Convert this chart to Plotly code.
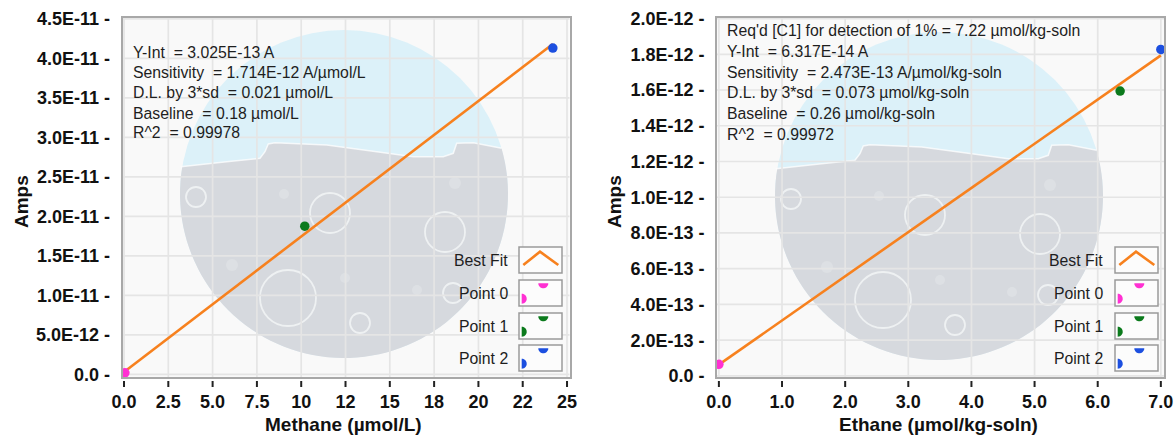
import numpy as np
import plotly.graph_objects as go

W, H = 1176, 438
FONT = "Arial, 'Liberation Sans', sans-serif"

# ---------------- data ----------------
methane_x = [0.05, 10.2, 24.2]
methane_y = [2.0e-13, 1.876e-11, 4.13e-11]
methane_fit_x = [0.0, 24.2]
methane_fit_y = [3.0e-13, 4.18e-11]

ethane_x = [0.0, 6.355, 7.0]
ethane_y = [6.5e-14, 1.594e-12, 1.827e-12]
ethane_fit_x = [0.0, 7.0]
ethane_fit_y = [6.3e-14, 1.794e-12]

point_names = ["Point 0", "Point 1", "Point 2"]
point_colors = ["#ff30d2", "#0b7a1c", "#1c4fe0"]
fit_color = "#f7811e"

m_xticks = [0, 2.5, 5, 7.5, 10, 12.5, 15, 17.5, 20, 22.5, 25]
m_xtext = ["0.0", "2.5", "5.0", "7.5", "10", "12", "15", "18", "20", "22", "25"]
m_yticks = [0, 5e-12, 1e-11, 1.5e-11, 2e-11, 2.5e-11, 3e-11, 3.5e-11, 4e-11, 4.5e-11]
m_ytext = ["0.0", "5.0E-12", "1.0E-11", "1.5E-11", "2.0E-11", "2.5E-11",
           "3.0E-11", "3.5E-11", "4.0E-11", "4.5E-11"]

e_xticks = [0, 1, 2, 3, 4, 5, 6, 7]
e_xtext = ["0.0", "1.0", "2.0", "3.0", "4.0", "5.0", "6.0", "7.0"]
e_yticks = [0, 2e-13, 4e-13, 6e-13, 8e-13, 1e-12, 1.2e-12, 1.4e-12, 1.6e-12, 1.8e-12, 2e-12]
e_ytext = ["0.0", "2.0E-13", "4.0E-13", "6.0E-13", "8.0E-13", "1.0E-12",
           "1.2E-12", "1.4E-12", "1.6E-12", "1.8E-12", "2.0E-12"]

m_stats = ["Y-Int  = 3.025E-13 A",
           "Sensitivity  = 1.714E-12 A/µmol/L",
           "D.L. by 3*sd  = 0.021 µmol/L",
           "Baseline  = 0.18 µmol/L",
           "R^2  = 0.99978"]
e_stats = ["Req'd [C1] for detection of 1% = 7.22 µmol/kg-soln",
           "Y-Int  = 6.317E-14 A",
           "Sensitivity  = 2.473E-13 A/µmol/kg-soln",
           "D.L. by 3*sd  = 0.073 µmol/kg-soln",
           "Baseline  = 0.26 µmol/kg-soln",
           "R^2  = 0.99972"]

m_xtitle = "Methane (µmol/L)"
e_xtitle = "Ethane (µmol/kg-soln)"
ytitle = "Amps"
legend_labels = ["Best Fit"] + point_names

# plot-area pixel boxes (left, right, top, bottom)
LEFT_BOX = (122.5, 569.5, 18, 377)
RIGHT_BOX = (717, 1164, 18, 377)


# ---------------- helpers ----------------
def px(x):
    return x / W


def py(y):
    return 1 - y / H


def path_of(pts, close=True, fx=px, fy=py):
    s = "M " + " L ".join(f"{fx(x):.5f},{fy(y):.5f}" for x, y in pts)
    return s + (" Z" if close else "")


def dom_conv(box):
    l, r, t, b = box
    return (lambda x: (x - l) / (r - l)), (lambda y: (b - y) / (b - t))


fig = go.Figure()

# ---------------- traces ----------------
panels = [
    (methane_fit_x, methane_fit_y, methane_x, methane_y, "x", "y"),
    (ethane_fit_x, ethane_fit_y, ethane_x, ethane_y, "x2", "y2"),
]
for fx_, fy_, xs, ys, xa, ya in panels:
    fig.add_trace(go.Scatter(x=fx_, y=fy_, mode="lines", name="Best Fit",
                             line=dict(color=fit_color, width=2.6),
                             xaxis=xa, yaxis=ya, showlegend=False))
    for i in range(len(xs)):
        fig.add_trace(go.Scatter(x=[xs[i]], y=[ys[i]], mode="markers", name=point_names[i],
                                 marker=dict(color=point_colors[i], size=9.5),
                                 xaxis=xa, yaxis=ya, showlegend=False))

shapes = []
annotations = []

# ---------------- watermark (subplot-domain referenced, below) ----------------
BLUE = "#dcf1f9"
GREY = "#d6d9de"
boundary_rel = [(-163.3, -27.3), (-117.3, -32.3), (-84, -35.7), (-79, -42.3),
                (-75.7, -50), (-69, -51.3), (-17.3, -49), (32.7, -42.3),
                (69.3, -37.3), (99.3, -37.3), (109.3, -40.7), (112.7, -50.7),
                (129.3, -51.3), (157.7, -45.7)]


def watermark(cx, cy, box, xa, ya, r=164):
    fx, fy = dom_conv(box)
    xr, yr = f"{xa} domain", f"{ya} domain"
    base = dict(xref=xr, yref=yr, layer="below")
    shapes.append(dict(type="circle", x0=fx(cx - r), x1=fx(cx + r), y0=fy(cy + r), y1=fy(cy - r),
                       fillcolor=BLUE, line=dict(width=0), **base))
    top = [(cx + dx, cy + dy) for dx, dy in boundary_rel]
    a_end = np.arctan2(boundary_rel[-1][1], boundary_rel[-1][0])
    a_start = np.arctan2(boundary_rel[0][1], boundary_rel[0][0]) + 2 * np.pi
    arc = [(cx + r * np.cos(a), cy + r * np.sin(a)) for a in np.linspace(a_end, a_start, 80)]
    shapes.append(dict(type="path", path=path_of(top + arc, True, fx, fy),
                       fillcolor=GREY, line=dict(width=0), **base))
    shapes.append(dict(type="path", path=path_of(top, False, fx, fy),
                       line=dict(color="rgba(255,255,255,0.75)", width=1.5), **base))
    for dx, dy, rr in [(-56, 104, 28), (101, 38, 20), (-14, 19, 20), (-148, 3, 10),
                       (16, 129, 10), (109, 99, 10)]:
        shapes.append(dict(type="circle", x0=fx(cx + dx - rr), x1=fx(cx + dx + rr),
                           y0=fy(cy + dy + rr), y1=fy(cy + dy - rr),
                           line=dict(color="rgba(242,244,246,0.85)", width=1.8), **base))
    for dx, dy, rr in [(-112, 71, 6), (1, 84, 5), (73, 96, 5), (111, -11, 6), (-60, 0, 5)]:
        shapes.append(dict(type="circle", x0=fx(cx + dx - rr), x1=fx(cx + dx + rr),
                           y0=fy(cy + dy + rr), y1=fy(cy + dy - rr),
                           fillcolor="#dde0e4", line=dict(width=0), **base))


watermark(344, 194, LEFT_BOX, "x", "y")
watermark(939, 196, RIGHT_BOX, "x2", "y2")

# ---------------- gridlines (same layer, drawn over the watermark) ----------------
GRID = "#e5e5e5"
for xa, ya, xt, yt in [("x", "y", m_xticks, m_yticks), ("x2", "y2", e_xticks, e_yticks)]:
    for tv in xt:
        shapes.append(dict(type="line", xref=xa, yref=f"{ya} domain", x0=tv, x1=tv,
                           y0=0, y1=1, line=dict(color=GRID, width=1.7), layer="below"))
    for tv in yt:
        shapes.append(dict(type="line", xref=f"{xa} domain", yref=ya, x0=0, x1=1,
                           y0=tv, y1=tv, line=dict(color=GRID, width=1.7), layer="below"))


# ---------------- legend (drawn) ----------------
def legend(label_right, box_left):
    tops = [247, 280, 313, 345]
    for i, t in enumerate(tops):
        shapes.append(dict(type="rect", xref="paper", yref="paper",
                           x0=px(box_left), x1=px(box_left + 43), y0=py(t + 26), y1=py(t),
                           fillcolor="#fcfcfc", line=dict(color="#9a9a9a", width=1.5)))
        annotations.append(dict(xref="paper", yref="paper", x=px(label_right), y=py(t + 13),
                                text=legend_labels[i], showarrow=False, xanchor="right",
                                yanchor="middle", font=dict(family=FONT, size=15.8, color="#1e1e1e")))
        if i == 0:
            shapes.append(dict(type="path", xref="paper", yref="paper",
                               path=path_of([(box_left + 4.3, t + 18), (box_left + 21, t + 4.7),
                                             (box_left + 39.3, t + 18)], close=False),
                               line=dict(color=fit_color, width=2.6)))
        else:
            col = point_colors[i - 1]
            cx, cy, r = box_left + 24.3, t + 3.3, 5
            semi = [(cx + r * np.cos(a), cy + r * np.sin(a)) for a in np.linspace(0, np.pi, 14)]
            shapes.append(dict(type="path", xref="paper", yref="paper", path=path_of(semi),
                               fillcolor=col, line=dict(width=0)))
            cx, cy = box_left + 2.7, t + 18.7
            semi = [(cx + r * np.cos(a), cy + r * np.sin(a)) for a in np.linspace(-np.pi / 2, np.pi / 2, 14)]
            shapes.append(dict(type="path", xref="paper", yref="paper", path=path_of(semi),
                               fillcolor=col, line=dict(width=0)))


legend(510, 519)
legend(1105, 1115)

# ---------------- stats text ----------------
for lines, x0, ys in [(m_stats, 131, [52, 72, 92, 113, 133]),
                      (e_stats, 725, [30, 51.5, 72, 93, 113, 134])]:
    for txt, yy in zip(lines, ys):
        annotations.append(dict(xref="paper", yref="paper", x=px(x0), y=py(yy),
                                text=txt.replace("  ", " \u00a0"), showarrow=False,
                                xanchor="left", yanchor="middle",
                                font=dict(family=FONT, size=15.8, color="#1e1e1e")))

# ---------------- axis titles ----------------
for txt, x, y, ang in [(ytitle, 22, 202, -90), (ytitle, 615, 202, -90),
                       (m_xtitle, 343, 424, 0), (e_xtitle, 938, 424, 0)]:
    annotations.append(dict(xref="paper", yref="paper", x=px(x), y=py(y), text=f"<b>{txt}</b>",
                            showarrow=False, xanchor="center", yanchor="middle", textangle=ang,
                            font=dict(family=FONT, size=19, color="#111111")))

# ---------------- x tick marks ----------------
for xa, ticks in [("x", m_xticks), ("x2", e_xticks)]:
    for tv in ticks:
        shapes.append(dict(type="line", xref=xa, yref="paper", x0=tv, x1=tv,
                           y0=py(381), y1=py(387), line=dict(color="#222222", width=2)))

# ---------------- axes ----------------
common = dict(showgrid=False, zeroline=False,
              showline=True, mirror=True, linecolor="#a8a8a8", linewidth=1.8,
              ticks="outside", tickcolor="rgba(0,0,0,0)",
              tickfont=dict(family=FONT, size=18, color="#111111"), automargin=False)

fig.update_layout(
    width=W, height=H, autosize=False,
    margin=dict(l=0, r=0, t=0, b=0),
    paper_bgcolor="white", plot_bgcolor="#f9f9f9",
    showlegend=False,
    xaxis=dict(domain=[px(LEFT_BOX[0]), px(LEFT_BOX[1])], range=[-0.085, 25.14], anchor="y",
               tickmode="array", tickvals=m_xticks, ticktext=[f"<b>{t}</b>" for t in m_xtext],
               ticklen=7, **common),
    yaxis=dict(domain=[py(LEFT_BOX[3]), py(LEFT_BOX[2])], range=[-0.33e-12, 45.1e-12], anchor="x",
               tickmode="array", tickvals=m_yticks, ticktext=[f"<b>{t} -</b>" for t in m_ytext],
               ticklen=7, **common),
    xaxis2=dict(domain=[px(RIGHT_BOX[0]), px(RIGHT_BOX[1])], range=[-0.03, 7.05], anchor="y2",
                tickmode="array", tickvals=e_xticks, ticktext=[f"<b>{t}</b>" for t in e_xtext],
                ticklen=7, **common),
    yaxis2=dict(domain=[py(RIGHT_BOX[3]), py(RIGHT_BOX[2])], range=[-0.006e-12, 2.003e-12], anchor="x2",
                tickmode="array", tickvals=e_yticks, ticktext=[f"<b>{t} -</b>" for t in e_ytext],
                ticklen=7, **common),
    shapes=shapes,
    annotations=annotations,
)

fig.write_html("out.html", config={"displayModeBar": False},
               post_script="document.body.style.margin='0';document.body.style.overflow='hidden';")
